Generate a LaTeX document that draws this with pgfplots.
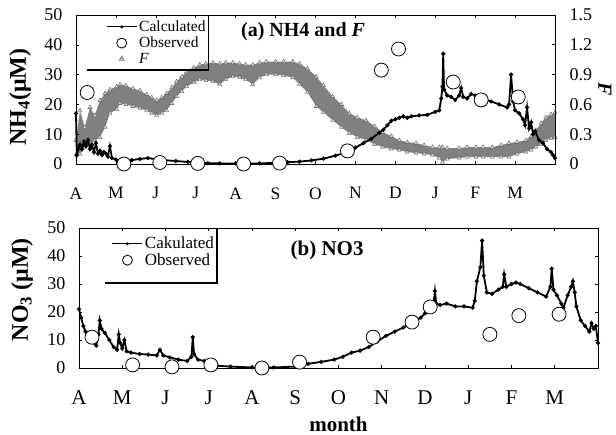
\documentclass[border=0pt]{standalone}
\usepackage{fontspec}
\setmainfont{Liberation Serif}
\usepackage{pgfplots}
\usepackage{pgfplotstable}
\pgfplotsset{compat=1.18}
\usepgfplotslibrary{fillbetween}

% F band: month, upper edge, lower edge
\pgfplotstableread{
m up lo
0.00 0.24 0.09
0.10 0.54 0.10
0.22 0.37 0.17
0.35 0.57 0.20
0.47 0.49 0.24
0.60 0.64 0.27
0.73 0.71 0.37
0.85 0.75 0.51
1.02 0.78 0.55
1.10 0.80 0.61
1.25 0.79 0.60
1.43 0.76 0.58
1.60 0.74 0.56
1.77 0.70 0.54
1.90 0.67 0.51
2.02 0.64 0.49
2.15 0.67 0.51
2.27 0.71 0.54
2.40 0.77 0.61
2.52 0.83 0.68
2.65 0.88 0.73
2.77 0.93 0.78
2.95 0.97 0.82
3.10 1.00 0.85
3.25 1.01 0.84
3.43 1.02 0.83
3.60 1.01 0.80
3.75 1.02 0.85
3.93 1.02 0.88
4.10 1.01 0.87
4.25 1.00 0.85
4.43 1.00 0.80
4.60 1.02 0.87
4.77 1.03 0.90
5.00 1.03 0.90
5.20 1.03 0.89
5.43 1.03 0.87
5.60 1.01 0.80
5.80 0.96 0.72
6.02 0.88 0.58
6.20 0.79 0.52
6.43 0.68 0.44
6.65 0.60 0.37
6.85 0.51 0.31
7.05 0.47 0.27
7.27 0.44 0.24
7.48 0.38 0.20
7.68 0.32 0.17
7.90 0.28 0.15
8.10 0.24 0.14
8.30 0.22 0.12
8.52 0.21 0.11
8.72 0.19 0.10
8.93 0.17 0.09
9.10 0.17 0.06
9.18 0.17 0.02
9.30 0.16 0.05
9.60 0.16 0.06
9.80 0.17 0.07
10.02 0.17 0.07
10.20 0.17 0.07
10.43 0.17 0.07
10.65 0.19 0.07
10.85 0.21 0.07
11.05 0.22 0.10
11.27 0.24 0.12
11.40 0.28 0.14
11.52 0.34 0.17
11.65 0.41 0.20
11.77 0.47 0.24
11.90 0.50 0.26
12.00 0.52 0.27
}\Ftab

% NH4 calculated
\pgfplotstableread{
m v
0.00 17
0.02 3
0.05 5
0.10 6.5
0.15 5
0.20 7.5
0.25 6
0.30 8
0.35 5
0.40 6.5
0.45 4
0.50 7
0.55 3.5
0.60 4.5
0.65 3
0.70 4
0.75 3.5
0.80 2.5
0.85 6
0.90 2
1.00 1.5
1.10 1.2
1.20 0.8
1.40 1.3
1.60 1.7
1.80 2.0
2.00 1.6
2.20 1.3
2.50 1.0
2.80 0.7
3.00 0.5
3.30 0.3
3.60 0.2
4.00 0.2
4.30 0.1
4.60 0.2
5.00 0.4
5.30 0.6
5.60 0.8
5.90 1.2
6.20 1.8
6.50 2.8
6.80 4.0
7.00 5.5
7.20 7
7.40 8.5
7.60 10.5
7.70 11.5
7.80 13
7.90 14.5
8.00 15
8.10 15.5
8.20 16
8.30 15.5
8.40 16
8.60 16.3
8.80 16.5
9.00 17.5
9.10 18
9.15 22
9.18 26
9.20 37
9.22 25
9.30 23
9.40 22.5
9.50 21.5
9.60 23
9.65 25.5
9.70 22.5
9.80 22
9.90 23.5
10.00 23
10.10 22
10.20 22
10.40 21
10.60 20
10.80 19
10.85 20
10.90 30
10.95 21
11.00 18
11.10 17
11.20 15
11.25 13
11.30 19
11.35 12
11.40 14
11.45 10
11.50 11
11.60 8
11.70 7
11.80 5
11.90 4
11.95 3
12.00 2
}\NHcalc

\pgfplotstableread{
m v
0.28 24
1.20 0
2.10 0.5
3.05 0.2
4.20 0
5.10 0.3
6.80 4.4
7.65 31.5
8.08 38.6
9.45 27.5
10.15 21.5
11.08 22.5
}\NHobs

% NO3 calculated
\pgfplotstableread{
m v
0.00 21
0.05 18
0.10 15
0.15 13
0.20 12.5
0.30 11
0.35 9
0.40 8
0.45 12
0.48 17
0.52 14
0.60 12.5
0.70 10
0.80 7.5
0.88 6.5
0.92 12
0.95 9
1.00 7
1.05 10
1.10 6
1.20 5.5
1.40 5
1.60 4.8
1.80 4.5
1.87 6.5
1.95 4.5
2.10 3.8
2.30 3
2.50 2.5
2.60 4
2.63 11
2.66 5
2.75 3
2.90 2.5
3.00 2
3.20 0.8
3.50 0.5
4.00 0.2
4.50 0.2
5.00 0.5
5.30 1.5
5.60 2.2
5.90 3
6.10 4
6.30 5.5
6.50 6.2
6.70 7.5
6.90 9.5
7.10 11.5
7.30 13
7.50 14.5
7.70 16
7.90 18
8.00 19.5
8.10 21
8.20 23
8.23 27.5
8.26 23
8.35 22.5
8.50 23
8.70 22
8.90 22
9.10 21.5
9.15 24
9.20 31
9.28 36
9.32 45.5
9.36 33
9.43 27
9.55 26.5
9.70 28
9.80 29
9.83 33.5
9.88 29
10.00 30
10.10 30.5
10.20 30
10.40 28.5
10.60 27
10.80 25.5
10.90 29
10.93 35.5
10.97 28
11.05 26
11.15 23
11.20 21.5
11.30 26
11.38 29
11.42 31
11.46 27
11.50 22
11.60 17
11.70 15
11.80 13
11.85 16
11.90 14
11.95 15
12.00 9
}\NOcalc

\pgfplotstableread{
m v
0.30 11
1.24 1.1
2.15 0.4
3.05 1.1
4.23 0
5.10 2.1
6.80 11
7.70 16.4
8.12 21.8
9.50 12
10.17 18.7
11.10 19.2
}\NOobs

\pgfplotsset{
  base/.style={
    scale only axis, clip=false,
    xmin=0, xmax=12,
    xtick={0,...,11},
    xticklabels={A,M,J,J,A,S,O,N,D,J,F,M},
    /pgf/number format/assume math mode=true,
    tick style={black, line width=0.6pt},
    major tick length=3pt,
    axis line style={line width=0.8pt},
    yticklabel style={font=\fontsize{18}{18}\selectfont},
    legend cell align=left,
    legend image code/.code={\draw[mark repeat=2,mark phase=2,##1] plot coordinates {(0pt,0pt) (15pt,0pt) (30pt,0pt)};},
  },
  calc/.style={black, line width=1.8pt, mark=*, mark size=1pt},
  obs/.style={only marks, mark=*, mark size=7pt, mark options={fill=white, draw=black, line width=0.8pt}},
  tri/.style={only marks, mark=triangle*, mark size=2.4pt, mark options={fill=gray!35, draw=black!65, line width=0.35pt}, forget plot},
}

\begin{document}
\begin{tikzpicture}
\path (0,0) rectangle (616pt,434pt);

% right axis: F
\begin{axis}[base, at={(76pt,270pt)}, anchor=south west, width=479pt, height=149pt,
  ymin=0, ymax=1.5, ytick={0,0.3,0.6,0.9,1.2,1.5}, yticklabels={0,0.3,0.6,0.9,1.2,1.5},
  hide x axis, ytick pos=right, yticklabel pos=right,
  yticklabel style={xshift=11pt}]
\addplot[name path=Fu, draw=none, forget plot] table[x=m, y=up] {\Ftab};
\addplot[name path=Fl, draw=none, forget plot] table[x=m, y=lo] {\Ftab};
\addplot[fill=black!50, draw=none, forget plot] fill between[of=Fu and Fl];
\addplot[tri] table[x=m, y=up] {\Ftab};
\addplot[tri] table[x=m, y=lo] {\Ftab};
\node[rotate=-90, font=\bfseries\itshape\fontsize{20}{20}\selectfont] at ([xshift=50pt]rel axis cs:1,0.5) {F};
\end{axis}

% left axis: NH4
\begin{axis}[base, at={(76pt,270pt)}, anchor=south west, width=479pt, height=149pt,
  ymin=0, ymax=50, ytick={0,10,...,50}, ytick pos=left,
  yticklabel style={xshift=-10pt},
  xticklabel style={font=\fontsize{17.5}{18}\selectfont, yshift=-20pt},
  legend style={at={(rel axis cs:0.276,1)}, anchor=north east, yshift=-3pt, draw=none, fill=none,
    font=\fontsize{15.5}{15.5}\selectfont, row sep=0pt, inner sep=0.5pt}]
\addlegendimage{black, line width=1pt, mark=*, mark size=1pt}
\addlegendentry{Calculated}
\addlegendimage{only marks, mark=*, mark size=5pt, mark options={fill=white, draw=black, line width=0.8pt}}
\addlegendentry{Observed}
\addlegendimage{only marks, mark=triangle*, mark size=3pt, mark options={fill=gray!50, draw=black!65}}
\addlegendentry{\textit{F}}
\addplot[calc, forget plot] table[x=m, y=v] {\NHcalc};
\addplot[obs, forget plot] table[x=m, y=v] {\NHobs};
\draw[line width=1.2pt] (rel axis cs:0.023,0.631) -| (rel axis cs:0.276,1);
\node[font=\bfseries\fontsize{20}{20}\selectfont] at (rel axis cs:0.474,0.886) {(a) NH4 and \textit{F}};
\node[rotate=90, font=\bfseries\fontsize{24}{24}\selectfont] at ([xshift=-56pt]rel axis cs:0,0.45) {NH\textsubscript{4}(μM)};
\end{axis}

% bottom axis: NO3
\begin{axis}[base, at={(79pt,66pt)}, anchor=south west, width=519pt, height=140pt,
  ymin=0, ymax=50, ytick={0,10,...,50},
  yticklabel style={xshift=-10pt},
  xticklabel style={font=\fontsize{21}{21}\selectfont, yshift=-19pt},
  legend style={at={(rel axis cs:0.266,1)}, anchor=north east, yshift=-6pt, draw=none, fill=none,
    font=\fontsize{17}{17}\selectfont, row sep=-1pt, inner sep=1pt}]
\addlegendimage{black, line width=1pt, mark=*, mark size=1pt}
\addlegendentry{Cakulated}
\addlegendimage{only marks, mark=*, mark size=5pt, mark options={fill=white, draw=black, line width=0.8pt}}
\addlegendentry{Observed}
\addplot[calc, forget plot] table[x=m, y=v] {\NOcalc};
\addplot[obs, forget plot] table[x=m, y=v] {\NOobs};
\draw[line width=1.2pt] (rel axis cs:0.05,0.607) -| (rel axis cs:0.266,1);
\node[font=\bfseries\fontsize{21}{21}\selectfont] at (rel axis cs:0.478,0.843) {(b) NO3};
\node[rotate=90, font=\bfseries\fontsize{24}{24}\selectfont] at ([xshift=-57pt]rel axis cs:0,0.56) {NO\textsubscript{3} (μM)};
\node[font=\bfseries\fontsize{21}{21}\selectfont] at ([yshift=-56pt]rel axis cs:0.5,0) {month};
\end{axis}
\end{tikzpicture}
\end{document}
